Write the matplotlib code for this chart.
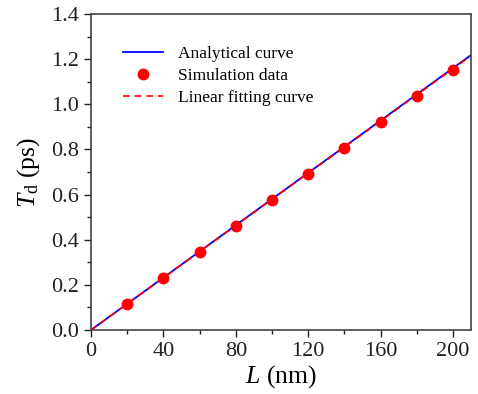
import numpy as np
import matplotlib.pyplot as plt
from matplotlib.ticker import MultipleLocator

plt.rcParams['font.family'] = ['Liberation Serif', 'DejaVu Serif']
plt.rcParams['mathtext.fontset'] = 'custom'
plt.rcParams['mathtext.rm'] = 'Liberation Serif'
plt.rcParams['mathtext.it'] = 'Liberation Serif:italic'

# Simulation data
L_sim = [20, 40, 60, 80, 100, 120, 140, 160, 180, 200]
T_sim = [0.115, 0.230, 0.345, 0.460, 0.575, 0.690, 0.805, 0.920, 1.035, 1.150]

# Analytical curve and linear fit (end points)
L_ana = [0, 210]
T_ana = [0.0, 1.218]
L_fit = [0, 210]
T_fit = [0.0, 1.215]

fig = plt.figure(figsize=(4.78, 3.94), dpi=100)
ax = fig.add_axes([91/478, 1-330/394, 380/478, 316/394])

ax.plot(L_ana, T_ana, color='#0000ff', lw=1.3, label='Analytical curve')
ax.plot(L_sim, T_sim, 'o', color='#ff0000', ms=7.5, label='Simulation data')
ax.plot(L_fit, T_fit, '--', color='#ff0000', lw=1.2, dashes=(4, 3), label='Linear fitting curve')

ax.set_xlim(0, 210); ax.set_ylim(0, 1.4)
ax.xaxis.set_major_locator(MultipleLocator(40))
ax.xaxis.set_minor_locator(MultipleLocator(20))
ax.yaxis.set_major_locator(MultipleLocator(0.2))
ax.yaxis.set_minor_locator(MultipleLocator(0.1))
ax.yaxis.set_major_formatter(plt.FuncFormatter(lambda v, p: '%.1f' % v))
ax.tick_params(which='both', direction='out', top=False, right=False, labelsize=16, colors='#222222')
ax.tick_params(which='major', length=5, width=1, pad=4)
ax.tick_params(which='minor', length=3, width=1)
for s in ax.spines.values():
    s.set_color('#444444'); s.set_linewidth(1.2)

ax.set_xlabel('$L$ (nm)', fontsize=18.5, labelpad=1)
ax.set_ylabel('$T_{\\mathrm{d}}$ (ps)', fontsize=18.5, labelpad=6)

ax.legend(loc='upper left', frameon=False, fontsize=12.5, handlelength=2.3,
          labelspacing=0.35, handletextpad=0.9, bbox_to_anchor=(0.042, 0.95))

fig.savefig('out.png', dpi=100)
